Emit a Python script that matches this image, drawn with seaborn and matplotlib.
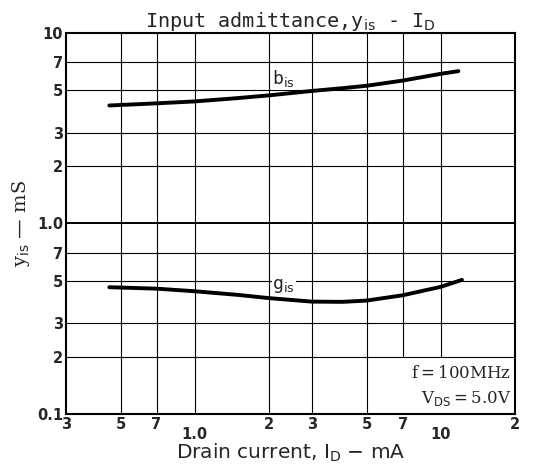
import numpy as np
import pandas as pd
import matplotlib as mpl
mpl.use('Agg')
import matplotlib.pyplot as plt
import seaborn as sns

sns.set_style('white')
plt.rcParams['font.family'] = ['DejaVu Sans']

# values (mA, mS)
b_is_current = [0.45, 0.7, 1.0, 1.5, 2.0, 3.0, 4.0, 5.0, 7.0, 10.0, 11.8]
b_is_values = [4.16, 4.27, 4.37, 4.55, 4.70, 4.96, 5.13, 5.28, 5.62, 6.10, 6.30]
g_is_current = [0.45, 0.7, 1.0, 1.5, 2.0, 3.0, 4.0, 5.0, 7.0, 10.0, 12.2]
g_is_values = [0.463, 0.455, 0.441, 0.422, 0.406, 0.389, 0.388, 0.394, 0.420, 0.465, 0.506]

x_ticks = [0.3, 0.5, 0.7, 1.0, 2, 3, 5, 7, 10, 20]
x_labels = ['3', '5', '7', '1.0', '2', '3', '5', '7', '10', '2']
y_ticks = [0.1, 0.2, 0.3, 0.5, 0.7, 1.0, 2, 3, 5, 7, 10]
y_labels = ['0.1', '2', '3', '5', '7', '1.0', '2', '3', '5', '7', '10']

df = pd.concat([
    pd.DataFrame({'I_D': b_is_current, 'y': b_is_values, 'param': 'b_is'}),
    pd.DataFrame({'I_D': g_is_current, 'y': g_is_values, 'param': 'g_is'}),
])

fig = plt.figure(figsize=(5.43, 4.70), dpi=100)
ax = fig.add_axes([0.1215, 0.119, 0.8265, 0.811])

ax.set_xscale('log')
ax.set_yscale('log')
ax.set_xlim(0.3, 20)
ax.set_ylim(0.1, 10)

# grid (lines at 7 and 10 stop above the conditions box)
for xv in x_ticks[1:-1]:
    ybot = 0.2 if xv >= 7 else 0.1
    ax.vlines(xv, ybot, 10, color='black', lw=0.8, zorder=1)
for yv in y_ticks[1:-1]:
    ax.axhline(yv, color='black', lw=1.4 if yv == 1.0 else 0.8, zorder=1)

sns.lineplot(data=df, x='I_D', y='y', units='param', estimator=None,
             color='black', lw=2.8, ax=ax, zorder=3)

ax.xaxis.set_minor_locator(mpl.ticker.NullLocator())
ax.yaxis.set_minor_locator(mpl.ticker.NullLocator())
ax.set_xticks(x_ticks)
ax.set_xticklabels(x_labels, fontweight='bold', fontsize=10.5)
ax.set_yticks(y_ticks)
ax.set_yticklabels(y_labels, fontweight='bold', fontsize=10.5)
ax.tick_params(axis='both', length=0, pad=2)
for i, t in enumerate(ax.xaxis.get_major_ticks()):
    if x_labels[i] in ('1.0', '10'):
        t.set_pad(9)

for s in ax.spines.values():
    s.set_color('black')
    s.set_linewidth(1.5)

# curve labels
ax.text(2.3, 5.05, r'b$_{\mathrm{is}}$', fontsize=13, family='DejaVu Sans Mono',
        ha='center', va='bottom', zorder=4,
        bbox=dict(facecolor='white', edgecolor='none', pad=0.5))
ax.text(2.3, 0.42, r'g$_{\mathrm{is}}$', fontsize=13, family='DejaVu Sans Mono',
        ha='center', va='bottom', zorder=4,
        bbox=dict(facecolor='white', edgecolor='none', pad=0.5))

# conditions
ax.text(19.3, 0.163, r'f$=$100MHz', fontsize=12, family='DejaVu Serif',
        ha='right', va='center', zorder=4)
ax.text(19.3, 0.121, r'V$_{\mathrm{DS}}$$=$5.0V', fontsize=12, family='DejaVu Serif',
        ha='right', va='center', zorder=4)

ax.set_title(r'Input admittance,y$_{\mathrm{is}}$ - I$_{\mathrm{D}}$',
             family='DejaVu Sans Mono', fontsize=14.5, pad=4)
ax.set_xlabel(r'Drain current, I$_{\mathrm{D}}$ $-$ mA', fontsize=14.5, labelpad=0)
ax.set_ylabel('y$_{\\mathrm{is}}$ \u2014 mS', family='DejaVu Serif', fontsize=14, labelpad=4)

fig.savefig('out.png', dpi=100)
